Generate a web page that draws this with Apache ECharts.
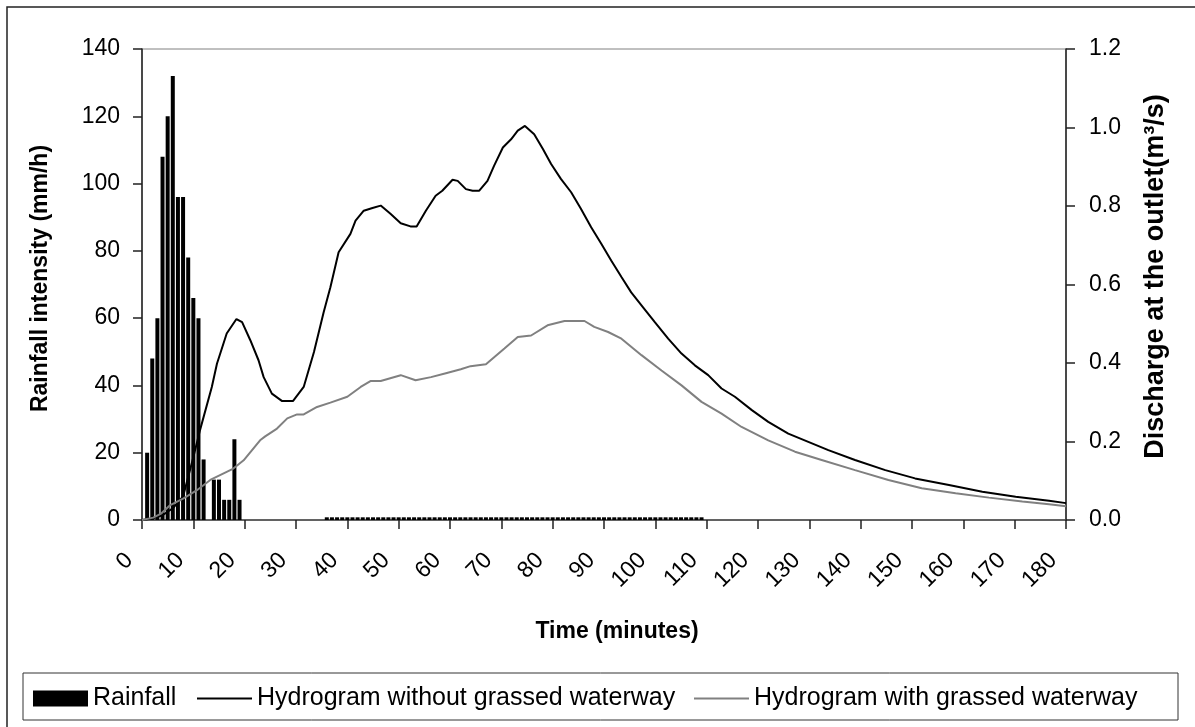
<!DOCTYPE html>
<html>
<head>
<meta charset="utf-8">
<title>Rainfall and hydrograms</title>
<script src="https://cdn.jsdelivr.net/npm/echarts@6/dist/echarts.min.js"></script>
<style>
  html, body { margin: 0; padding: 0; background: #fff; }
  #chart { width: 1195px; height: 727px; }
</style>
</head>
<body>
<div id="chart"></div>
<script>
const FONT = "'Liberation Sans', Arial, sans-serif";

// rainfall, one bar per minute (mm/h)
const rainMinutes = [
  1, 2, 3, 4, 5, 6, 7, 8, 9, 10, 11, 12, 13, 14, 15, 16, 17, 18, 19,
  36, 37, 38, 39, 40, 41, 42, 43, 44, 45, 46, 47, 48, 49, 50, 51, 52, 53, 54, 55,
  56, 57, 58, 59, 60, 61, 62, 63, 64, 65, 66, 67, 68, 69, 70, 71, 72, 73, 74, 75,
  76, 77, 78, 79, 80, 81, 82, 83, 84, 85, 86, 87, 88, 89, 90, 91, 92, 93, 94, 95,
  96, 97, 98, 99, 100, 101, 102, 103, 104, 105, 106, 107, 108, 109
];
const rainIntensity = [
  20, 48, 60, 108, 120, 132, 96, 96, 78, 66, 60, 18, 0, 12, 12, 6, 6, 24, 6,
  0.8, 0.8, 0.8, 0.8, 0.8, 0.8, 0.8, 0.8, 0.8, 0.8, 0.8, 0.8, 0.8, 0.8, 0.8, 0.8, 0.8, 0.8, 0.8, 0.8,
  0.8, 0.8, 0.8, 0.8, 0.8, 0.8, 0.8, 0.8, 0.8, 0.8, 0.8, 0.8, 0.8, 0.8, 0.8, 0.8, 0.8, 0.8, 0.8, 0.8,
  0.8, 0.8, 0.8, 0.8, 0.8, 0.8, 0.8, 0.8, 0.8, 0.8, 0.8, 0.8, 0.8, 0.8, 0.8, 0.8, 0.8, 0.8, 0.8, 0.8,
  0.8, 0.8, 0.8, 0.8, 0.8, 0.8, 0.8, 0.8, 0.8, 0.8, 0.8, 0.8, 0.8, 0.8
];

// hydrograms, [minute, discharge m3/s]
const withoutGrass = [
  [0, 0], [2, 0.004], [4, 0.012], [6, 0.03], [8, 0.06], [10, 0.16], [11.3, 0.229],
  [13.6, 0.339], [14.6, 0.398], [16.5, 0.475], [18.4, 0.512], [19.5, 0.504], [21.1, 0.458],
  [22.7, 0.407], [23.7, 0.364], [25.3, 0.322], [27.3, 0.303], [29.4, 0.303], [31.5, 0.339],
  [33.5, 0.428], [35.4, 0.53], [36.7, 0.593], [38.3, 0.682], [40.6, 0.729], [41.6, 0.763],
  [43.2, 0.788], [44.9, 0.795], [46.5, 0.801], [48.4, 0.78], [50.4, 0.756], [52.3, 0.748],
  [53.5, 0.748], [55.3, 0.788], [57.2, 0.826], [58.5, 0.839], [60.5, 0.867], [61.5, 0.864],
  [63.1, 0.843], [64.4, 0.839], [65.7, 0.839], [67.3, 0.864], [68.6, 0.903], [70.3, 0.949],
  [71.9, 0.97], [73.2, 0.992], [74.6, 1.004], [76.4, 0.983], [78.1, 0.945], [79.7, 0.907],
  [81.6, 0.869], [83.6, 0.835], [85.5, 0.793], [87.5, 0.746], [89.5, 0.703], [91.4, 0.661],
  [93.4, 0.619], [95.3, 0.58], [97.3, 0.547], [99.9, 0.504], [102.5, 0.462], [105.1, 0.424],
  [107.7, 0.394], [110.3, 0.369], [112.9, 0.335], [115.5, 0.314], [118.8, 0.28], [122, 0.25],
  [125.9, 0.22], [129.8, 0.199], [133.7, 0.178], [138.9, 0.153], [144.8, 0.127], [150.6, 0.106],
  [157.2, 0.089], [163.7, 0.072], [170.2, 0.059], [176.7, 0.049], [180, 0.043]
];
const withGrass = [
  [0, 0], [2.2, 0.006], [3.8, 0.017], [5.5, 0.038], [8.1, 0.055], [10.7, 0.076], [13.3, 0.102],
  [15.9, 0.119], [17.8, 0.131], [19.8, 0.152], [23, 0.203], [24, 0.213], [26.3, 0.233],
  [28.3, 0.259], [30.2, 0.269], [31.5, 0.269], [34.1, 0.288], [36.7, 0.299], [40, 0.314],
  [42.6, 0.339], [44.5, 0.354], [46.5, 0.354], [50.4, 0.369], [53.3, 0.356], [56.3, 0.364],
  [59.2, 0.374], [62.1, 0.384], [64, 0.392], [67, 0.397], [70.6, 0.437], [73.2, 0.466],
  [75.8, 0.47], [79, 0.496], [82.3, 0.507], [86.2, 0.507], [88.1, 0.492], [90.8, 0.479],
  [93.4, 0.462], [97.3, 0.42], [101.2, 0.381], [105.1, 0.343], [109, 0.301], [112.9, 0.271],
  [116.8, 0.237], [122, 0.203], [127.2, 0.174], [132.4, 0.153], [138.9, 0.127], [145.4, 0.102],
  [151.9, 0.081], [158.5, 0.068], [165, 0.057], [171.5, 0.047], [176.7, 0.04], [180, 0.035]
];

const chart = echarts.init(document.getElementById('chart'));

const axisLine = { show: true, lineStyle: { color: '#222', width: 1.5 } };
const axisTick = { show: true, inside: false, length: 9, lineStyle: { color: '#222', width: 1.5 } };
const labelStyle = { color: '#000', fontFamily: FONT, fontSize: 23 };
const nameStyle = { color: '#000', fontFamily: FONT, fontSize: 23, fontWeight: 'bold' };

// one legend per item so each sits where Excel put it
function legendAt(left, name, iconHeight) {
  return {
    left: left,
    top: 686,
    padding: 0,
    itemWidth: 55,
    itemHeight: iconHeight,
    selectedMode: false,
    data: [{ name: name, icon: 'rect' }],
    textStyle: { color: '#000', fontFamily: FONT, fontSize: 25 }
  };
}

chart.setOption({
  animation: false,
  backgroundColor: '#fff',
  grid: {
    left: 142, right: 129, top: 49, bottom: 207,
    show: true, borderColor: '#808080', borderWidth: 1
  },
  graphic: [
    { type: 'rect', shape: { x: 7, y: 7, width: 1210, height: 740 },
      style: { fill: 'none', stroke: '#222', lineWidth: 1.5 } },
    { type: 'rect', shape: { x: 23, y: 673, width: 1155, height: 47 },
      style: { fill: 'none', stroke: '#333', lineWidth: 1 } }
  ],
  legend: [
    legendAt(33, 'Rainfall', 16),
    legendAt(197, 'Hydrogram without grassed waterway', 2),
    legendAt(694, 'Hydrogram with grassed waterway', 2)
  ],
  xAxis: {
    type: 'value',
    min: 0, max: 180, interval: 10,
    name: 'Time (minutes)',
    nameLocation: 'middle',
    nameGap: 100,
    nameTextStyle: Object.assign({}, nameStyle, { padding: [0, 0, 0, 26] }),
    axisLine: { show: true, lineStyle: { color: '#444', width: 1.5 } },
    axisTick: axisTick,
    splitLine: { show: false },
    axisLabel: Object.assign({}, labelStyle, { rotate: 45, margin: 24, padding: [0, 18, 0, 0] })
  },
  yAxis: [
    {
      type: 'value',
      min: 0, max: 140, interval: 20,
      name: 'Rainfall intensity (mm/h)',
      nameLocation: 'middle',
      nameRotate: 90,
      nameGap: 90,
      nameTextStyle: Object.assign({}, nameStyle, { padding: [0, 0, 0, 12] }),
      axisLine: axisLine,
      axisTick: axisTick,
      splitLine: { show: false },
      axisLabel: Object.assign({}, labelStyle, { margin: 22 })
    },
    {
      type: 'value',
      position: 'right',
      min: 0, max: 1.2, interval: 0.2,
      name: 'Discharge at the outlet(m³/s)',
      nameLocation: 'middle',
      nameRotate: 90,
      nameGap: 76,
      nameTextStyle: Object.assign({}, nameStyle, { fontSize: 27, padding: [0, 0, 0, 16] }),
      axisLine: axisLine,
      axisTick: axisTick,
      splitLine: { show: false },
      axisLabel: Object.assign({}, labelStyle, { margin: 23, formatter: (v) => v.toFixed(1) })
    }
  ],
  series: [
    {
      name: 'Rainfall',
      type: 'bar',
      yAxisIndex: 0,
      barWidth: 4,
      itemStyle: { color: '#000' },
      data: rainMinutes.map((m, i) => [m, rainIntensity[i]])
    },
    {
      name: 'Hydrogram without grassed waterway',
      type: 'line',
      yAxisIndex: 1,
      showSymbol: false,
      symbol: 'none',
      lineStyle: { color: '#000', width: 2 },
      itemStyle: { color: '#000' },
      data: withoutGrass
    },
    {
      name: 'Hydrogram with grassed waterway',
      type: 'line',
      yAxisIndex: 1,
      showSymbol: false,
      symbol: 'none',
      lineStyle: { color: '#808080', width: 2 },
      itemStyle: { color: '#808080' },
      data: withGrass
    }
  ]
});
</script>
</body>
</html>
